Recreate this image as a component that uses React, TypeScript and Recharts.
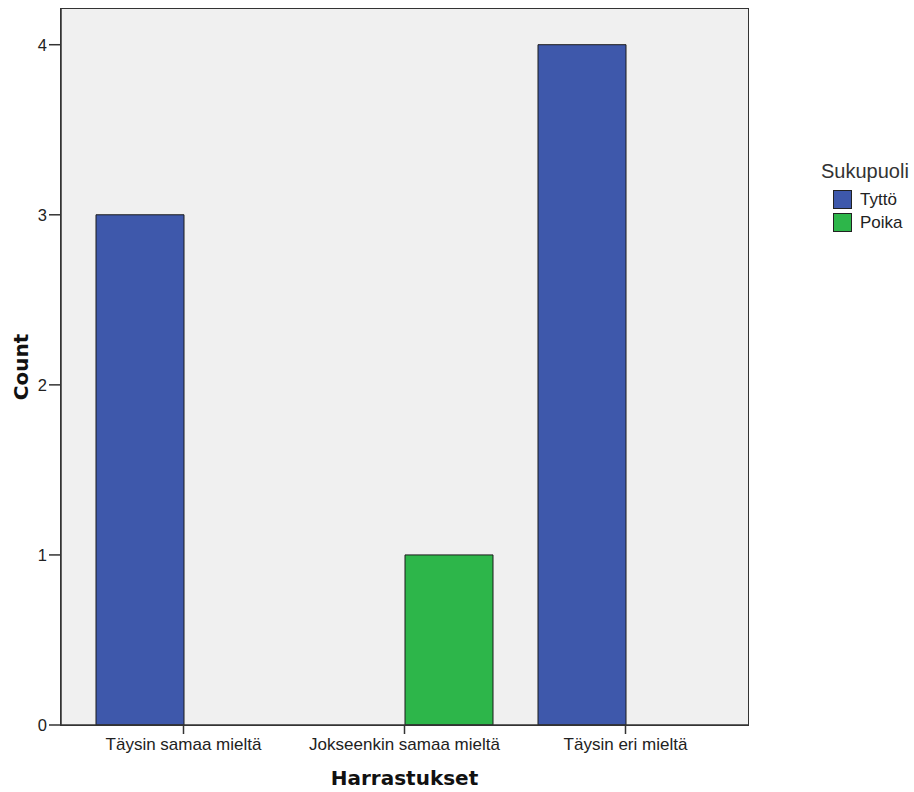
import React from "react";
import { BarChart, Bar, XAxis, YAxis, CartesianGrid } from "recharts";

const categories = ["Täysin samaa mieltä", "Jokseenkin samaa mieltä", "Täysin eri mieltä"];
const tyttoCounts = [3, 0, 4];
const poikaCounts = [0, 1, 0];
const yTicks = [0, 1, 2, 3, 4];
const legendItems = ["Tyttö", "Poika"];

const BLUE = "#3e58ab";
const GREEN = "#2db64a";
const COLORS = [BLUE, GREEN];
const FONT = "'Liberation Sans', Arial, sans-serif";
const TITLE_FONT = "'DejaVu Sans', Verdana, sans-serif";

const data = categories.map((c, i) => ({
  name: c,
  Tyttö: tyttoCounts[i],
  Poika: poikaCounts[i],
}));

function LegendBox() {
  return (
    <div style={{ position: "absolute", left: 821, top: 159, fontFamily: FONT }}>
      <div style={{ fontSize: 20, color: "#333", lineHeight: "24px", marginBottom: 5 }}>Sukupuoli</div>
      {legendItems.map((label, i) => (
        <div key={label} style={{ display: "flex", alignItems: "center", height: 23, marginLeft: 12 }}>
          <div
            style={{
              width: 19,
              height: 19,
              boxSizing: "border-box",
              background: COLORS[i],
              border: "1.5px solid #222",
              marginRight: 8,
            }}
          />
          <span style={{ fontSize: 17, color: "#222" }}>{label}</span>
        </div>
      ))}
    </div>
  );
}

export default function App() {
  return (
    <div style={{ position: "absolute", left: 0, top: 0, width: 914, height: 792, background: "#fff" }}>
      <BarChart
        width={914}
        height={792}
        data={data}
        margin={{ top: 9, right: 166, bottom: 0, left: 0 }}
        barGap={0}
        barSize={88}
      >
        <CartesianGrid horizontal={false} vertical={false} fill="#f0f0f0" />
        <XAxis
          dataKey="name"
          height={67}
          padding={{ left: 12, right: 12 }}
          axisLine={{ stroke: "#333", strokeWidth: 1.5 }}
          tickLine={{ stroke: "#333", strokeWidth: 1.5 }}
          tickSize={9}
          tickMargin={4}
          tick={{ fill: "#222", fontSize: 17, fontFamily: FONT }}
          label={{
            value: "Harrastukset",
            position: "insideBottom",
            offset: 7,
            style: { fontSize: 20, fontWeight: 700, fill: "#111", fontFamily: TITLE_FONT },
          }}
        />
        <YAxis
          width={61}
          domain={[0, 4.21]}
          ticks={yTicks}
          interval={0}
          axisLine={{ stroke: "#333", strokeWidth: 1.5 }}
          tickLine={{ stroke: "#333", strokeWidth: 1.5 }}
          tickSize={12}
          tickMargin={2}
          tick={{ fill: "#222", fontSize: 16.5, fontFamily: FONT }}
          label={{
            value: "Count",
            angle: -90,
            position: "insideLeft",
            offset: 21,
            style: { fontSize: 20, fontWeight: 700, fill: "#111", fontFamily: TITLE_FONT, textAnchor: "middle" },
          }}
        />
        <Bar dataKey="Tyttö" fill={BLUE} stroke="#1a1a1a" strokeWidth={1} isAnimationActive={false} />
        <Bar dataKey="Poika" fill={GREEN} stroke="#1a1a1a" strokeWidth={1} isAnimationActive={false} />
      </BarChart>
      <div
        style={{
          position: "absolute",
          left: 60,
          top: 8,
          width: 689,
          height: 718,
          border: "1.5px solid #333",
          boxSizing: "border-box",
          pointerEvents: "none",
        }}
      />
      <LegendBox />
    </div>
  );
}
